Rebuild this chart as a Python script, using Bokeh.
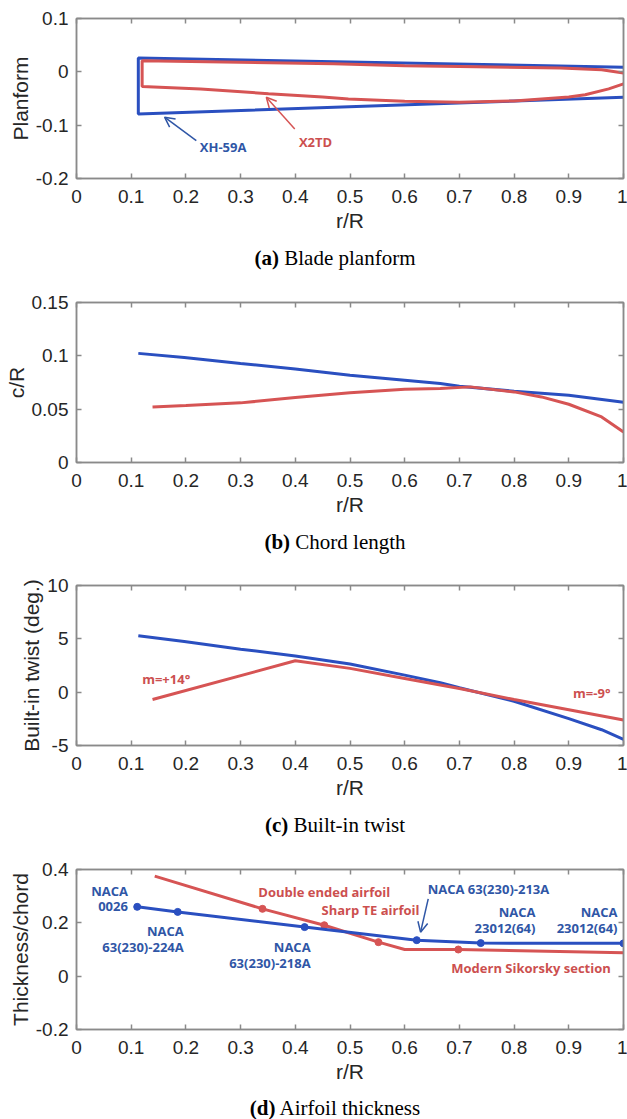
from bokeh.plotting import figure
from bokeh.models import LinearAxis, FixedTicker, Arrow, OpenHead, Range1d, Div
from bokeh.layouts import column
from bokeh.embed import file_html
from bokeh.resources import INLINE
from bokeh.core.properties import value

# ---------------- data ----------------
r_ticks = [0, 0.1, 0.2, 0.3, 0.4, 0.5, 0.6, 0.7, 0.8, 0.9, 1]
r_tick_labels = ["0", "0.1", "0.2", "0.3", "0.4", "0.5", "0.6", "0.7", "0.8", "0.9", "1"]

# (a) Blade planform
plan_ticks = [-0.2, -0.1, 0, 0.1]
plan_tick_labels = ["-0.2", "-0.1", "0", "0.1"]
xh59a_plan_r = [1.0, 0.113, 0.113, 1.0]
xh59a_plan_y = [0.0087, 0.026, -0.079, -0.0476]
x2td_plan_r = [1.0, 0.96, 0.885, 0.7, 0.6, 0.47, 0.12, 0.12, 0.227, 0.351, 0.45,
               0.497, 0.6, 0.7, 0.8, 0.9, 0.93, 0.973, 1.0]
x2td_plan_y = [-0.002, 0.004, 0.007, 0.010, 0.0115, 0.015, 0.021, -0.0276, -0.032, -0.041, -0.047,
               -0.051, -0.055, -0.057, -0.0545, -0.047, -0.043, -0.032, -0.0225]
plan_label_r = [0.268, 0.437]
plan_label_y = [-0.141, -0.132]
plan_label_text = ["XH-59A", "X2TD"]
plan_arrow_start_r = [0.219, 0.399]
plan_arrow_start_y = [-0.129, -0.107]
plan_arrow_end_r = [0.161, 0.347]
plan_arrow_end_y = [-0.085, -0.0476]

# (b) Chord length
chord_ticks = [0, 0.05, 0.1, 0.15]
chord_tick_labels = ["0", "0.05", "0.1", "0.15"]
xh59a_chord_r = [0.113, 0.197, 0.3, 0.4, 0.5, 0.6, 0.665, 0.7, 0.8, 0.9, 1.0]
xh59a_chord = [0.1023, 0.0985, 0.0929, 0.0876, 0.0819, 0.0772, 0.0741, 0.0715, 0.0668, 0.0631, 0.0565]
x2td_chord_r = [0.139, 0.2, 0.3, 0.4, 0.5, 0.6, 0.665, 0.72, 0.8, 0.85, 0.9, 0.96, 1.0]
x2td_chord = [0.0521, 0.0535, 0.0559, 0.0609, 0.0653, 0.0687, 0.0694, 0.0709, 0.0662, 0.0615,
              0.0546, 0.0427, 0.0286]

# (c) Built-in twist
twist_ticks = [-5, 0, 5, 10]
twist_tick_labels = ["-5", "0", "5", "10"]
xh59a_twist_r = [0.113, 0.197, 0.3, 0.4, 0.5, 0.6, 0.665, 0.7, 0.8, 0.9, 0.96, 1.0]
xh59a_twist = [5.28, 4.75, 4.03, 3.40, 2.64, 1.60, 0.88, 0.41, -0.85, -2.48, -3.52, -4.43]
x2td_twist_r = [0.139, 0.4, 0.5, 0.6, 0.7, 0.8, 0.9, 1.0]
x2td_twist = [-0.69, 2.94, 2.23, 1.29, 0.35, -0.69, -1.64, -2.61]
twist_label_r = [0.164, 0.942]
twist_label_y = [1.25, -0.12]
twist_label_text = ["m=+14°", "m=-9°"]

# (d) Airfoil thickness
thick_ticks = [-0.2, 0, 0.2, 0.4]
thick_tick_labels = ["-0.2", "0", "0.2", "0.4"]
xh59a_thick_r = [0.111, 0.185, 0.417, 0.622, 0.739, 1.0]
xh59a_thick = [0.260, 0.241, 0.184, 0.135, 0.124, 0.123]
x2td_thick_r = [0.143, 0.34, 0.453, 0.552, 0.60, 0.698, 1.0]
x2td_thick = [0.375, 0.2525, 0.191, 0.1275, 0.100, 0.100, 0.088]
x2td_marker_r = [0.34, 0.453, 0.552, 0.698]
x2td_marker = [0.2525, 0.191, 0.1275, 0.100]
blue_label_r = [0.094, 0.196, 0.428, 0.839, 0.989]
blue_label_y = [0.292, 0.140, 0.080, 0.2106, 0.2106]
blue_label_line1 = ["NACA", "NACA", "NACA", "NACA", "NACA"]
blue_label_line2 = ["0026", "63(230)-224A", "63(230)-218A", "23012(64)", "23012(64)"]
blue_label2_r = [0.642]
blue_label2_y = [0.328]
blue_label2_text = ["NACA 63(230)-213A"]
red_label_r = [0.453, 0.5375, 0.831]
red_label_y = [0.314, 0.248, 0.032]
red_label_text = ["Double ended airfoil", "Sharp TE airfoil", "Modern Sikorsky section"]
thick_arrow_start = (0.643, 0.29)
thick_arrow_end = (0.629, 0.165)

captions = [("(a)", "Blade planform"), ("(b)", "Chord length"),
            ("(c)", "Built-in twist"), ("(d)", "Airfoil thickness")]

# ---------------- style ----------------
BLUE = "#2a4fc0"
RED = "#d65454"
BLUE_TXT = "#2f56a6"
RED_TXT = "#cc4f4f"
FRAME = "#8a8a8a"
TXT = "#262626"
SANS = "Liberation Sans"
ANN = "Open Sans"
W = 627


def style_axis(ax, ticks, labels, show):
    ax.ticker = FixedTicker(ticks=ticks)
    ax.major_label_overrides = {t: l for t, l in zip(ticks, labels)}
    ax.axis_line_color = FRAME
    ax.axis_line_width = 1.5
    ax.major_tick_line_color = FRAME
    ax.major_tick_line_width = 1.5
    ax.major_tick_in = 5
    ax.major_tick_out = 0
    ax.minor_tick_line_color = None
    if show:
        ax.major_label_text_font = SANS
        ax.major_label_text_font_size = "19px"
        ax.major_label_text_color = TXT
        ax.axis_label_text_font = SANS
        ax.axis_label_text_font_size = "21px"
        ax.axis_label_text_font_style = "normal"
        ax.axis_label_text_color = TXT
    else:
        ax.major_label_text_font_size = "1px"
        ax.major_label_text_color = None
        ax.major_label_standoff = 0


def panel(height, top, yr, yticks, ylabels, ylabel):
    p = figure(width=W, height=height, x_range=Range1d(0, 1), y_range=Range1d(*yr),
               output_backend="svg", toolbar_location=None, tools="",
               min_border_left=76, min_border_right=4, min_border_top=top,
               min_border_bottom=height - top - 160)
    p.xgrid.visible = False
    p.ygrid.visible = False
    p.outline_line_color = FRAME
    p.outline_line_width = 1.5
    style_axis(p.xaxis[0], r_ticks, r_tick_labels, True)
    style_axis(p.yaxis[0], yticks, ylabels, True)
    p.xaxis[0].major_label_standoff = 11
    p.xaxis[0].axis_label_standoff = 3
    p.yaxis[0].major_label_standoff = 8
    p.yaxis[0].axis_label_standoff = 1
    p.xaxis[0].axis_label = "r/R"
    p.yaxis[0].axis_label = ylabel
    top_ax = LinearAxis()
    style_axis(top_ax, r_ticks, r_tick_labels, False)
    p.add_layout(top_ax, "above")
    right_ax = LinearAxis()
    style_axis(right_ax, yticks, ylabels, False)
    p.add_layout(right_ax, "right")
    return p


def caption(cap, height, lh):
    html = ('<div style="width:584px;margin-left:43px;text-align:center;'
            "font-family:'Liberation Serif',serif;font-size:21px;line-height:%dpx;color:#000;"
            'white-space:nowrap"><b>%s</b> %s</div>' % (lh, cap[0], cap[1]))
    return Div(text=html, width=W, height=height, margin=(0, 0, 0, 0))


def ann(p, xs, ys, texts, color, align="center", dy=0):
    p.text(x=xs, y=ys, text=texts, text_color=color, text_font=value(ANN),
           text_font_style="bold", text_font_size="13px", text_align=align,
           text_baseline="middle", y_offset=dy)


# (a)
pa = panel(246, 18, (-0.2, 0.1), plan_ticks, plan_tick_labels, "Planform")
pa.line(xh59a_plan_r, xh59a_plan_y, line_color=BLUE, line_width=3)
pa.line(x2td_plan_r, x2td_plan_y, line_color=RED, line_width=3)
for i, c in enumerate([BLUE_TXT, RED]):
    pa.add_layout(Arrow(end=OpenHead(size=10, line_color=c, line_width=1.5),
                        x_start=plan_arrow_start_r[i], y_start=plan_arrow_start_y[i],
                        x_end=plan_arrow_end_r[i], y_end=plan_arrow_end_y[i],
                        line_color=c, line_width=1.5))
ann(pa, plan_label_r[:1], plan_label_y[:1], plan_label_text[:1], BLUE_TXT)
ann(pa, plan_label_r[1:], plan_label_y[1:], plan_label_text[1:], RED_TXT)

# (b)
pb = panel(238, 10, (0, 0.15), chord_ticks, chord_tick_labels, "c/R")
pb.line(xh59a_chord_r, xh59a_chord, line_color=BLUE, line_width=3)
pb.line(x2td_chord_r, x2td_chord, line_color=RED, line_width=3)

# (c)
pc = panel(238, 10, (-5, 10), twist_ticks, twist_tick_labels, "Built-in twist (deg.)")
pc.line(xh59a_twist_r, xh59a_twist, line_color=BLUE, line_width=3)
pc.line(x2td_twist_r, x2td_twist, line_color=RED, line_width=3)
ann(pc, twist_label_r, twist_label_y, twist_label_text, RED_TXT)

# (d)
pd_ = panel(238, 10, (-0.2, 0.4), thick_ticks, thick_tick_labels, "Thickness/chord")
pd_.line(x2td_thick_r, x2td_thick, line_color=RED, line_width=3)
pd_.scatter(x2td_marker_r, x2td_marker, size=7, color=RED)
pd_.line(xh59a_thick_r, xh59a_thick, line_color=BLUE, line_width=3)
pd_.scatter(xh59a_thick_r, xh59a_thick, size=7, color=BLUE)
ann(pd_, blue_label_r, blue_label_y, blue_label_line1, BLUE_TXT, "right", -7.7)
ann(pd_, blue_label_r, blue_label_y, blue_label_line2, BLUE_TXT, "right", 7.7)
ann(pd_, blue_label2_r, blue_label2_y, blue_label2_text, BLUE_TXT, "left")
ann(pd_, red_label_r, red_label_y, red_label_text, RED_TXT)
pd_.add_layout(Arrow(end=OpenHead(size=10, line_color=BLUE_TXT, line_width=1.5),
                     x_start=thick_arrow_start[0], y_start=thick_arrow_start[1],
                     x_end=thick_arrow_end[0], y_end=thick_arrow_end[1],
                     line_color=BLUE_TXT, line_width=1.5))

layout = column(pa, caption(captions[0], 46, 24),
                pb, caption(captions[1], 45, 24),
                pc, caption(captions[2], 46, 24),
                pd_, caption(captions[3], 22, 22))
open("out.html", "w").write(file_html(layout, INLINE))
